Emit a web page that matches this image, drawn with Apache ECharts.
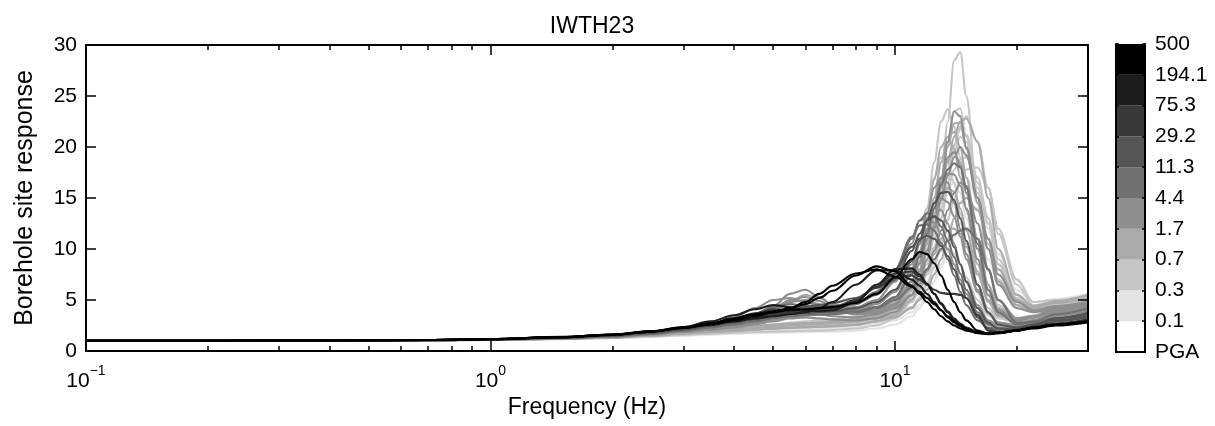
<!DOCTYPE html>
<html>
<head>
<meta charset="utf-8">
<script src="https://cdn.jsdelivr.net/npm/echarts@6/dist/echarts.min.js"></script>
<style>html,body{margin:0;padding:0;background:#fff}#c{width:1215px;height:426px}</style>
</head>
<body>
<div id="c"></div>
<script>
// ---------------- DATA ----------------
const chartTitle = 'IWTH23';
const xTitle = 'Frequency (Hz)';
const yTitle = 'Borehole site response';

// frequency sample points (Hz)
const freq = [0.1,0.2,0.4,0.7,1,1.5,2,2.5,3,3.5,4,4.5,5,5.5,6,6.5,7,8,9,10,11,11.5,12,12.5,13,13.5,14,14.5,15,16,17,18,20,22,25,30];

// PGA of each recording (gal)
const curvePGA = [0.5,0.5,0.3,3,1.0,0.2,0.6,0.4,0.15,1.5,2.5,0.8,0.9,0.35,2.0,0.25,3.5,1.2,0.45,2.8,0.55,1.6,0.12,4.0,
                  1.3,0.65,2.2,0.28,3.2,1.1,0.5,4.2,
                  8,6,15,20,9,12,5,
                  300,150,400,80,60,35,200];

// site response values at each frequency, one list per recording
const curveValues = [
 [1.0,1.0,1.02,1.05,1.1,1.2,1.35,1.5,1.7,1.85,2.0,2.1,2.2,2.3,2.4,2.5,2.6,2.8,3.2,4.0,6.0,7.8,10.0,12.5,16.5,22.5,28.5,29.3,25.0,15.0,8.0,4.5,3.2,3.5,4.2,4.8],
 [1.0,1.01,1.03,1.06,1.12,1.25,1.4,1.6,1.8,2.0,2.2,2.4,2.6,2.8,2.9,3.0,3.1,3.4,3.9,5.0,8.0,10.5,14.0,18.5,22.5,23.7,22.0,19.0,15.5,10.0,6.0,4.0,3.0,3.4,4.4,5.0],
 [1.0,1.0,1.02,1.05,1.1,1.2,1.35,1.55,1.75,1.9,2.05,2.2,2.3,2.4,2.5,2.6,2.7,2.9,3.2,3.6,4.8,6.0,7.8,10.0,13.0,16.5,20.0,22.0,23.0,20.5,16.0,11.5,6.5,4.5,4.8,5.3],
 [1.0,1.0,1.03,1.06,1.12,1.25,1.42,1.65,1.9,2.1,2.3,2.6,2.9,3.2,3.3,3.2,3.1,3.0,3.2,3.8,5.5,7.0,9.0,12.0,16.0,20.5,23.5,23.0,20.0,15.0,10.0,6.5,4.2,3.8,4.2,4.6],
 [1.0,1.0,1.02,1.05,1.1,1.22,1.38,1.6,1.85,2.05,2.25,2.45,2.6,2.7,2.75,2.8,2.9,3.1,3.5,4.2,6.0,7.5,9.5,12.5,15.5,18.5,21.0,22.5,22.8,20.5,15.0,10.0,5.5,4.4,4.9,5.5],
 [1.0,1.0,1.02,1.04,1.1,1.2,1.32,1.5,1.7,1.85,2.0,2.1,2.2,2.25,2.3,2.35,2.4,2.6,3.0,4.0,6.5,8.5,11.5,15.0,18.5,20.5,20.0,17.5,14.0,9.0,5.5,3.8,3.0,3.3,4.0,4.6],
 [1.0,1.01,1.02,1.05,1.1,1.22,1.36,1.55,1.78,1.95,2.1,2.2,2.35,2.5,2.6,2.65,2.7,2.9,3.3,3.9,5.2,6.5,8.5,11.0,14.0,17.0,19.5,21.0,20.5,16.5,13.0,8.5,5.0,4.2,4.6,5.2],
 [1.0,1.0,1.02,1.05,1.1,1.2,1.34,1.52,1.72,1.9,2.05,2.15,2.25,2.35,2.45,2.5,2.55,2.7,3.0,3.4,4.3,5.2,6.5,8.2,10.5,12.8,14.8,16.5,17.8,18.0,16.0,12.0,7.0,4.8,5.0,5.5],
 [1.0,1.0,1.02,1.05,1.1,1.2,1.33,1.5,1.7,1.85,2.0,2.1,2.2,2.3,2.35,2.4,2.45,2.6,2.9,3.6,5.5,7.0,9.0,11.5,14.0,16.0,16.5,15.5,13.0,9.0,5.5,3.8,2.8,3.2,4.0,4.5],
 [1.0,1.0,1.03,1.06,1.12,1.25,1.42,1.7,2.0,2.3,2.7,3.2,3.9,4.8,5.5,5.2,4.6,3.8,3.9,4.6,6.5,8.0,10.5,13.5,16.5,18.8,19.5,18.5,16.0,11.0,6.5,4.2,3.0,3.4,4.2,4.8],
 [1.0,1.01,1.03,1.06,1.13,1.27,1.45,1.75,2.1,2.5,3.0,3.6,4.4,5.6,6.0,5.3,4.5,3.7,4.0,5.2,8.0,10.5,13.5,16.0,17.0,16.5,14.5,12.0,9.5,6.0,3.8,2.8,2.5,3.0,3.8,4.4],
 [1.0,1.0,1.02,1.05,1.1,1.2,1.34,1.52,1.72,1.88,2.0,2.1,2.2,2.3,2.35,2.4,2.45,2.6,2.9,3.3,4.2,5.0,6.0,7.5,9.0,11.0,13.0,14.5,15.0,13.8,11.0,8.0,5.0,4.2,4.7,5.2],
 [1.0,1.0,1.02,1.05,1.1,1.21,1.35,1.55,1.75,1.92,2.1,2.25,2.4,2.55,2.65,2.7,2.8,3.0,3.4,4.3,6.8,8.8,11.5,15.0,18.5,21.0,21.5,20.0,17.0,11.0,6.5,4.2,3.0,3.4,4.3,4.9],
 [1.0,1.0,1.02,1.05,1.1,1.2,1.33,1.52,1.72,1.88,2.02,2.15,2.25,2.35,2.42,2.48,2.55,2.75,3.1,3.7,5.0,6.2,8.0,10.2,13.0,15.8,17.8,18.8,19.0,16.0,12.5,8.5,5.2,4.2,4.5,5.0],
 [1.0,1.01,1.03,1.06,1.12,1.24,1.4,1.62,1.88,2.1,2.4,2.7,3.0,3.3,3.5,3.6,3.7,4.0,4.6,5.8,8.5,10.5,12.5,14.0,13.8,12.5,10.5,8.5,6.8,4.5,3.0,2.5,2.4,2.8,3.5,4.0],
 [1.0,1.0,1.01,1.03,1.08,1.15,1.25,1.38,1.5,1.6,1.7,1.75,1.8,1.82,1.85,1.88,1.9,2.0,2.2,2.6,3.4,4.2,5.3,6.8,8.5,10.0,11.2,11.8,12.0,11.0,9.0,6.5,4.8,4.3,4.8,5.3],
 [1.0,1.01,1.03,1.06,1.12,1.26,1.44,1.72,2.05,2.4,2.8,3.3,4.0,4.8,5.0,4.6,4.1,3.6,3.8,4.6,6.4,7.8,9.8,12.2,14.8,17.2,19.0,20.0,19.2,15.0,11.0,7.5,4.8,4.0,4.4,4.8],
 [1.0,1.0,1.02,1.05,1.1,1.2,1.33,1.5,1.7,1.85,2.0,2.1,2.2,2.25,2.3,2.35,2.4,2.55,2.9,3.5,5.0,6.2,7.8,9.5,11.0,11.8,12.0,11.5,10.2,7.5,5.0,3.5,2.8,3.2,4.0,4.6],
 [1.0,1.0,1.02,1.05,1.1,1.21,1.35,1.55,1.76,1.93,2.1,2.25,2.4,2.5,2.6,2.65,2.7,2.9,3.4,4.6,7.8,10.5,14.0,17.0,19.0,18.5,16.5,13.5,10.5,6.5,4.2,3.2,2.8,3.2,4.0,4.6],
 [1.0,1.01,1.03,1.06,1.13,1.27,1.46,1.75,2.1,2.6,3.3,4.2,5.0,5.2,4.8,4.4,4.0,3.6,3.7,4.2,5.5,6.6,8.0,9.8,11.8,13.8,15.5,16.5,16.2,12.5,8.0,5.0,3.2,3.4,4.2,4.8],
 [1.0,1.0,1.02,1.05,1.1,1.2,1.34,1.52,1.72,1.88,2.02,2.15,2.25,2.35,2.42,2.5,2.55,2.75,3.1,3.8,5.8,7.5,10.0,13.0,16.5,20.5,23.5,23.8,21.0,15.5,10.5,7.0,4.5,4.0,4.5,5.0],
 [1.0,1.0,1.02,1.05,1.11,1.22,1.37,1.58,1.8,2.0,2.2,2.35,2.5,2.6,2.7,2.8,2.9,3.1,3.6,4.8,7.5,9.8,13.0,16.8,20.0,21.0,19.8,17.0,13.8,8.5,5.0,3.5,2.9,3.3,4.1,4.7],
 [1.0,1.0,1.02,1.04,1.09,1.18,1.3,1.45,1.62,1.75,1.85,1.92,2.0,2.05,2.1,2.12,2.15,2.3,2.6,3.0,3.8,4.5,5.5,6.8,8.2,9.8,11.2,12.5,13.5,14.0,12.5,9.5,6.0,4.8,5.1,5.6],
 [1.0,1.01,1.03,1.07,1.14,1.3,1.5,1.78,2.12,2.5,2.9,3.3,3.7,4.1,4.4,4.5,4.3,4.1,4.3,5.2,7.6,9.4,11.8,14.5,16.5,17.4,17.3,16.2,14.0,9.0,5.5,3.7,2.7,3.0,3.8,4.4],
 [1.0,1.0,1.02,1.05,1.1,1.21,1.36,1.56,1.78,1.95,2.12,2.28,2.42,2.55,2.62,2.68,2.75,2.95,3.4,4.4,6.8,8.5,10.8,13.2,15.2,16.0,15.6,14.0,11.8,7.8,4.8,3.4,2.9,3.3,4.1,4.7],
 [1.0,1.0,1.02,1.05,1.1,1.2,1.34,1.53,1.74,1.9,2.05,2.18,2.3,2.4,2.48,2.55,2.6,2.8,3.15,3.8,5.4,6.8,8.8,11.5,14.5,17.8,20.2,21.8,21.2,17.0,13.0,9.0,5.5,4.3,4.6,5.1],
 [1.0,1.01,1.03,1.06,1.12,1.25,1.43,1.68,1.95,2.2,2.5,2.85,3.25,3.6,3.7,3.6,3.4,3.3,3.6,4.5,6.8,8.6,11.0,14.0,17.0,19.0,19.5,18.2,15.5,10.0,6.0,4.0,3.0,3.3,4.0,4.6],
 [1.0,1.0,1.02,1.04,1.09,1.18,1.3,1.46,1.64,1.78,1.9,2.0,2.08,2.14,2.2,2.24,2.28,2.42,2.7,3.2,4.3,5.3,6.8,8.6,10.8,13.0,15.0,16.4,17.0,15.0,12.0,8.5,5.5,4.4,4.8,5.3],
 [1.0,1.01,1.03,1.06,1.13,1.27,1.46,1.75,2.1,2.5,2.95,3.5,4.2,5.0,5.3,4.9,4.3,3.7,3.9,5.0,7.6,9.6,12.0,14.0,15.0,14.6,13.2,11.2,9.0,5.8,3.7,2.8,2.5,2.9,3.7,4.3],
 [1.0,1.0,1.02,1.05,1.1,1.21,1.36,1.56,1.78,1.95,2.12,2.28,2.42,2.52,2.6,2.66,2.72,2.9,3.3,4.1,6.2,8.0,10.5,13.5,16.5,20.0,22.3,22.4,19.8,14.5,10.0,6.8,4.5,3.9,4.4,4.9],
 [1.0,1.0,1.02,1.04,1.09,1.17,1.28,1.42,1.58,1.7,1.8,1.86,1.9,1.94,1.98,2.0,2.05,2.2,2.5,3.2,4.8,6.0,7.5,8.8,9.8,10.0,9.5,8.5,7.2,5.0,3.5,2.8,2.6,3.0,3.8,4.4],
 [1.0,1.01,1.03,1.07,1.14,1.3,1.5,1.78,2.1,2.45,2.8,3.15,3.5,3.8,3.95,4.0,4.05,4.3,5.0,6.8,10.5,12.8,13.0,12.6,11.5,10.0,8.5,7.0,5.6,3.6,2.6,2.3,2.3,2.7,3.4,4.0],
 [1.0,1.01,1.03,1.07,1.14,1.3,1.5,1.8,2.15,2.5,2.9,3.2,3.5,3.7,3.8,3.8,3.8,3.9,4.3,5.3,7.5,9.2,11.5,14.0,16.3,17.8,18.4,18.0,16.0,10.5,6.0,3.8,2.6,2.9,3.6,4.2],
 [1.0,1.01,1.03,1.07,1.14,1.3,1.5,1.8,2.15,2.5,2.85,3.2,3.6,3.9,4.0,4.1,4.2,4.6,5.5,7.5,11.0,12.8,13.5,13.2,12.2,10.8,9.2,7.6,6.0,3.8,2.6,2.2,2.2,2.6,3.2,3.8],
 [1.0,1.01,1.03,1.07,1.15,1.32,1.52,1.82,2.2,2.55,2.9,3.3,3.7,4.0,4.2,4.3,4.4,4.8,5.6,7.0,9.8,11.5,12.8,13.2,12.8,11.8,10.2,8.5,6.8,4.2,2.8,2.2,2.1,2.5,3.0,3.5],
 [1.0,1.01,1.03,1.08,1.16,1.33,1.55,1.85,2.2,2.6,3.0,3.4,3.8,4.1,4.3,4.5,4.7,5.2,6.2,8.0,10.2,11.0,11.3,11.0,10.3,9.3,8.0,6.6,5.2,3.3,2.2,1.9,2.0,2.4,2.9,3.3],
 [1.0,1.01,1.03,1.06,1.12,1.25,1.42,1.68,1.98,2.3,2.6,2.9,3.2,3.4,3.5,3.55,3.6,3.8,4.2,5.0,6.2,7.0,8.0,9.0,10.0,10.8,11.4,11.8,12.0,11.0,8.0,5.0,2.8,2.8,3.2,3.6],
 [1.0,1.01,1.03,1.07,1.14,1.3,1.5,1.78,2.1,2.45,2.8,3.1,3.4,3.6,3.7,3.8,3.9,4.2,4.8,6.0,8.8,10.8,12.8,14.5,15.5,15.6,14.8,13.0,10.8,6.5,3.8,2.6,2.3,2.6,3.2,3.7],
 [1.0,1.01,1.03,1.07,1.14,1.3,1.5,1.8,2.2,2.6,3.0,3.6,4.3,4.6,4.4,4.2,4.1,4.6,5.8,8.0,11.2,12.3,12.4,11.8,10.6,9.0,7.4,5.8,4.5,3.0,2.3,2.1,2.2,2.6,3.2,3.7],
 [1.0,1.01,1.04,1.08,1.16,1.35,1.58,1.9,2.25,2.6,3.0,3.4,3.8,4.2,4.8,5.6,6.4,7.6,8.0,7.3,6.3,5.8,5.2,4.6,4.0,3.4,2.9,2.5,2.2,1.8,1.7,1.8,2.0,2.2,2.5,2.8],
 [1.0,1.01,1.04,1.08,1.17,1.38,1.62,1.95,2.35,2.9,3.5,4.1,4.5,4.3,4.0,3.9,4.0,4.8,6.5,8.0,8.1,7.5,6.6,5.6,4.6,3.8,3.1,2.6,2.2,1.8,1.65,1.75,2.0,2.3,2.6,2.9],
 [1.0,1.01,1.04,1.08,1.16,1.36,1.6,1.92,2.3,2.7,3.1,3.5,3.8,4.0,4.1,4.2,4.3,4.7,5.6,7.2,9.0,9.7,9.5,8.6,7.4,6.0,4.8,3.8,3.0,2.0,1.7,1.75,2.0,2.3,2.6,2.9],
 [1.0,1.01,1.04,1.08,1.16,1.35,1.58,1.9,2.25,2.6,2.9,3.2,3.4,3.6,3.8,4.2,4.8,6.5,7.9,7.9,7.0,6.4,5.6,4.8,4.0,3.3,2.8,2.4,2.1,1.8,1.7,1.8,2.0,2.3,2.6,3.0],
 [1.0,1.01,1.04,1.08,1.16,1.35,1.58,1.9,2.25,2.6,3.0,3.3,3.6,3.8,3.9,4.0,4.2,5.0,6.2,7.2,7.4,7.0,6.5,6.0,5.7,5.6,5.6,5.5,5.2,3.5,2.0,1.8,2.0,2.3,2.6,3.0],
 [1.0,1.01,1.04,1.08,1.17,1.37,1.6,1.93,2.3,2.7,3.2,3.7,4.1,4.0,3.9,4.0,4.2,5.0,6.3,7.6,7.8,7.3,6.5,5.6,4.7,3.9,3.2,2.7,2.3,1.9,1.7,1.8,2.1,2.4,2.7,3.1],
 [1.0,1.01,1.04,1.08,1.16,1.36,1.6,1.92,2.3,2.75,3.2,3.6,3.9,4.2,4.6,5.2,5.9,7.4,8.3,7.8,6.4,5.6,4.8,4.1,3.4,2.9,2.5,2.2,2.0,1.75,1.7,1.8,2.0,2.3,2.6,2.9]
];

// colour bar: PGA class boundaries and their labels (bottom -> top)
const pgaBounds = [0,0.1,0.3,0.7,1.7,4.4,11.3,29.2,75.3,194.1,500];
const pgaLabels = ['PGA','0.1','0.3','0.7','1.7','4.4','11.3','29.2','75.3','194.1','500'];
const blockSize = [1,1,1,1,1,1,1,1,1,1];

// axis ticks
const yTickStep = 5;
const xMajorTicks = [0.1,1,10];
const xMinorTicks = [0.2,0.3,0.4,0.5,0.6,0.7,0.8,0.9,2,3,4,5,6,7,8,9,20,30];

// ---------------- STYLE ----------------
const FONT = '"Liberation Sans", Arial, Helvetica, sans-serif';
const blockGray = ['#ffffff','#e3e3e3','#c6c6c6','#aaaaaa','#8e8e8e','#717171','#555555','#393939','#1c1c1c','#000000'];

function colorFor(p) {
  let k = 0;
  for (let i = 0; i < pgaBounds.length - 1; i++) if (p >= pgaBounds[i]) k = i;
  return blockGray[k];
}

const chart = echarts.init(document.getElementById('c'), null, {renderer: 'canvas'});

const order = curvePGA.map((p, i) => i).sort((a, b) => curvePGA[a] - curvePGA[b]);
const lineSeries = order.map(idx => ({
  type: 'line', xAxisIndex: 0, yAxisIndex: 0,
  data: freq.map((f, j) => [f, curveValues[idx][j]]),
  symbol: 'none', showSymbol: false, smooth: 0.35, smoothMonotone: 'x',
  lineStyle: {width: 2.1, color: colorFor(curvePGA[idx])},
  silent: true, z: 2
}));

const barSeries = blockSize.map((v, i) => ({
  type: 'bar', xAxisIndex: 4, yAxisIndex: 2, stack: 'cb',
  data: [v], barWidth: '100%', itemStyle: {color: blockGray[i]}, silent: true, z: 1
}));

const axLine = {show: true, lineStyle: {color: '#000', width: 2}};
const noLine = {show: false};
const supLabel = v => {
  const e = Math.round(Math.log10(v));
  return '{b|10}{s|' + (e < 0 ? '\u2212' + (-e) : e) + '}';
};

function logAx(pos, ticks, len, labels, line, extra) {
  return Object.assign({
    type: 'log', logBase: 10, gridIndex: 0, position: pos, min: 0.1, max: 30, z: 10,
    axisLine: line ? axLine : noLine,
    axisTick: {show: true, inside: true, length: len, customValues: ticks, lineStyle: {color: '#000', width: 1.5}},
    axisLabel: labels ? {
      show: true, customValues: xMajorTicks, margin: 13, formatter: supLabel,
      rich: {
        b: {fontSize: 21, fontFamily: FONT, color: '#000'},
        s: {fontSize: 14, fontFamily: FONT, color: '#000', padding: [0, 0, 20, 0]}
      }
    } : {show: false},
    splitLine: {show: false}, minorTick: {show: false}
  }, extra || {});
}

const option = {
  animation: false,
  backgroundColor: '#ffffff',
  title: {
    text: chartTitle, left: 587, top: 10, textAlign: 'center',
    textStyle: {fontFamily: FONT, fontSize: 23, fontWeight: 'normal', color: '#000'}
  },
  grid: [
    {left: 86, top: 45, width: 1002, height: 306},
    {left: 1116, top: 44, width: 29, height: 308}
  ],
  xAxis: [
    logAx('bottom', xMajorTicks, 10, true, true, {
      name: xTitle, nameLocation: 'middle', nameGap: 45,
      nameTextStyle: {fontFamily: FONT, fontSize: 23, color: '#000'}
    }),
    logAx('bottom', xMinorTicks, 5, false, false),
    logAx('top', xMajorTicks, 10, false, true),
    logAx('top', xMinorTicks, 5, false, false),
    {type: 'category', gridIndex: 1, position: 'bottom', data: ['c'], z: 10,
     axisLine: axLine, axisTick: {show: false}, axisLabel: {show: false}},
    {type: 'category', gridIndex: 1, position: 'top', data: ['c'], z: 10,
     axisLine: axLine, axisTick: {show: false}, axisLabel: {show: false}}
  ],
  yAxis: [
    {type: 'value', gridIndex: 0, position: 'left', min: 0, max: 30, interval: yTickStep, z: 10,
     axisLine: axLine,
     axisTick: {show: true, inside: true, length: 10, lineStyle: {color: '#000', width: 1.5}},
     axisLabel: {fontFamily: FONT, fontSize: 21, color: '#000', margin: 9},
     splitLine: {show: false},
     name: yTitle, nameLocation: 'middle', nameGap: 48, nameRotate: 90,
     nameTextStyle: {fontFamily: FONT, fontSize: 25, color: '#000'}},
    {type: 'value', gridIndex: 0, position: 'right', min: 0, max: 30, interval: yTickStep, z: 10,
     axisLine: axLine,
     axisTick: {show: true, inside: true, length: 10, lineStyle: {color: '#000', width: 1.5}},
     axisLabel: {show: false}, splitLine: {show: false}},
    {type: 'value', gridIndex: 1, position: 'right', min: 0, max: 10, interval: 1, z: 10,
     axisLine: axLine,
     axisTick: {show: true, inside: true, length: 3, lineStyle: {color: '#000', width: 1.5}},
     axisLabel: {fontFamily: FONT, fontSize: 21, color: '#000', margin: 10, padding: [6, 0, 0, 0],
                 formatter: v => pgaLabels[Math.round(v)]},
     splitLine: {show: false}},
    {type: 'value', gridIndex: 1, position: 'left', min: 0, max: 10, interval: 1, z: 10,
     axisLine: axLine,
     axisTick: {show: true, inside: true, length: 3, lineStyle: {color: '#000', width: 1.5}},
     axisLabel: {show: false}, splitLine: {show: false}}
  ],
  series: lineSeries.concat(barSeries)
};

chart.setOption(option);
</script>
</body>
</html>
